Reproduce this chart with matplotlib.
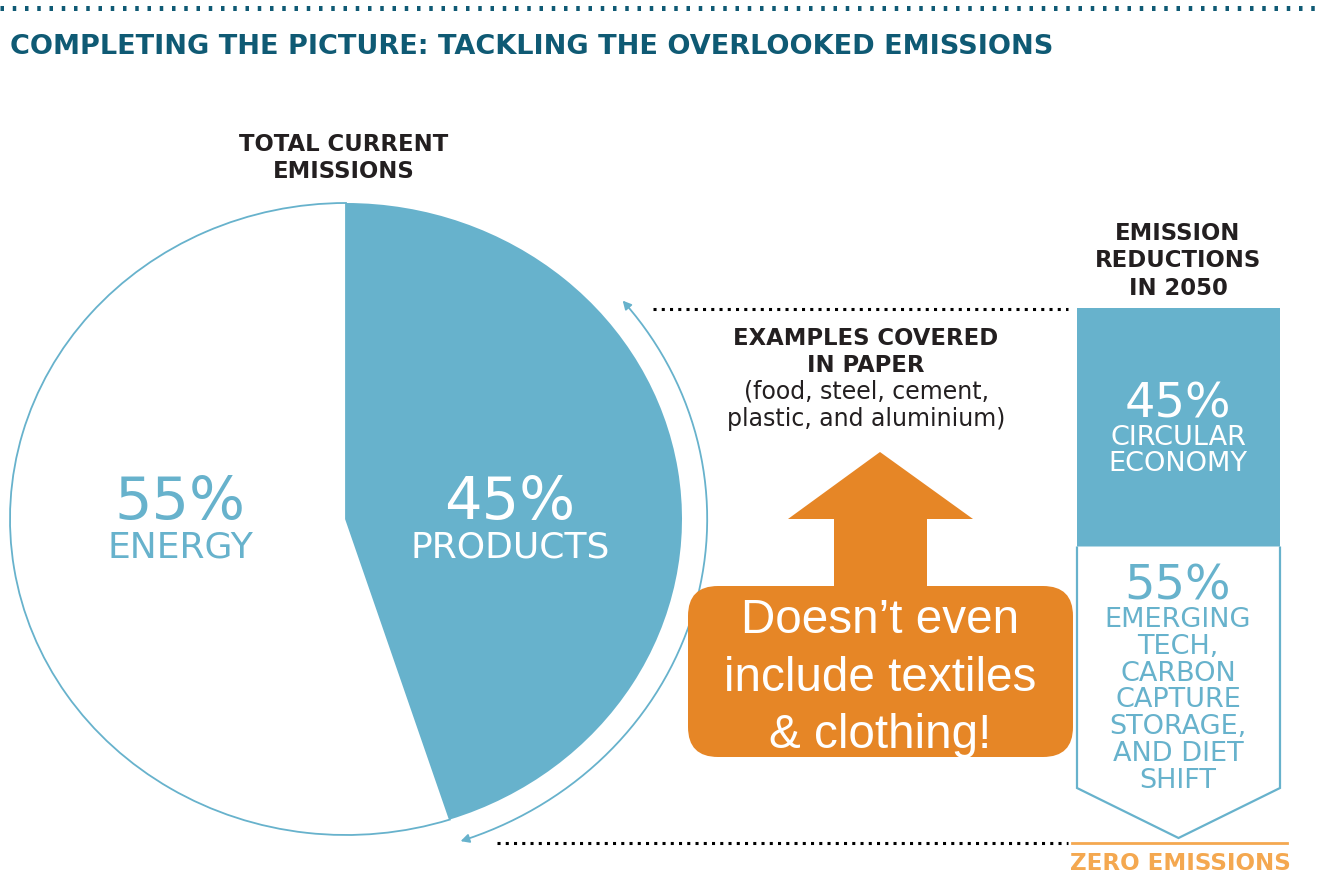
import matplotlib
matplotlib.use("Agg")
import matplotlib.pyplot as plt
import numpy as np
from matplotlib.patches import Polygon, Rectangle, FancyBboxPatch, FancyArrowPatch
from matplotlib.path import Path

# ---- content -------------------------------------------------------------
title = "COMPLETING THE PICTURE: TACKLING THE OVERLOOKED EMISSIONS"
pie_title = ["TOTAL CURRENT", "EMISSIONS"]
pie_labels = ["PRODUCTS", "ENERGY"]
pie_shares = [45, 55]
bar_title = ["EMISSION", "REDUCTIONS", "IN 2050"]
bar_shares = [45, 55]
bar_labels = [["CIRCULAR", "ECONOMY"],
              ["EMERGING", "TECH,", "CARBON", "CAPTURE", "STORAGE,", "AND DIET", "SHIFT"]]
examples_head = ["EXAMPLES COVERED", "IN PAPER"]
examples_list = ["(food, steel, cement,", "plastic, and aluminium)"]
callout = ["Doesn\u2019t even", "include textiles", "& clothing!"]
baseline_label = "ZERO EMISSIONS"

# ---- style ---------------------------------------------------------------
BLUE = "#67b2cc"
TEAL = "#0f5a74"
DARK = "#231f20"
ORANGE = "#e68626"
LIGHT_ORANGE = "#f4a850"
SANS = "DejaVu Sans"
CALLOUT_FONT = "Liberation Sans"

W, H = 1320, 875
fig = plt.figure(figsize=(W / 100, H / 100), dpi=100)

# ---- pie (slightly squashed ellipse) -------------------------------------
px0, px1, py0, py1 = 10, 682, 203, 835
pax = fig.add_axes([px0 / W, 1 - py1 / H, (px1 - px0) / W, (py1 - py0) / H])
wedges, _ = pax.pie(pie_shares, colors=[BLUE, "white"], startangle=90,
                    counterclock=False)
wedges[0].set(edgecolor=BLUE, linewidth=0)
wedges[1].set(edgecolor=BLUE, linewidth=1.3)
for w in wedges:
    w.set_clip_on(False)
pax.set_aspect("auto")
pax.set_xlim(-1, 1)
pax.set_ylim(-1, 1)
pax.axis("off")

# curved double arrow around the products slice
theta = np.radians(np.linspace(40, -71.5, 200))
r_arc = 1.075
arc = Path(np.column_stack([r_arc * np.cos(theta), r_arc * np.sin(theta)]))
arrow = FancyArrowPatch(path=arc, arrowstyle="<|-|>,head_length=5,head_width=2.6",
                        color=BLUE, lw=1.3, transform=pax.transData)
arrow.set_clip_on(False)
pax.add_patch(arrow)

# ---- overlay axes in pixel coordinates ------------------------------------
ax = fig.add_axes([0, 0, 1, 1], zorder=5)
ax.set_xlim(0, W)
ax.set_ylim(H, 0)
ax.set_facecolor("none")
ax.axis("off")

# top dotted rule and title
ax.plot([0, W], [8, 8], color=TEAL, lw=3.6, linestyle=(0, (0.7, 1.75)))
ax.text(10, 54, title, fontsize=19.5, fontweight="bold", color=TEAL,
        family=SANS, ha="left", va="baseline")


def stack(x, baselines, lines, **kw):
    for yb, s in zip(baselines, lines):
        ax.text(x, yb, s, ha="center", va="baseline", family=SANS, **kw)


# pie headings and labels
stack(344, [151, 178], pie_title, fontsize=16.4, fontweight="bold", color=DARK)
ax.text(180, 519, f"{pie_shares[1]}%", ha="center", va="baseline",
        fontsize=42.5, color=BLUE, family=SANS)
ax.text(180, 558, pie_labels[1], ha="center", va="baseline",
        fontsize=26, color=BLUE, family=SANS)
ax.text(510, 519, f"{pie_shares[0]}%", ha="center", va="baseline",
        fontsize=42.5, color="white", family=SANS)
ax.text(510, 558, pie_labels[0], ha="center", va="baseline",
        fontsize=26, color="white", family=SANS)

# examples note
stack(866, [345, 372], examples_head, fontsize=16.4, fontweight="bold", color=DARK)
stack(866, [399, 426], examples_list, fontsize=17, color=DARK)

# ---- reduction bar --------------------------------------------------------
bx0, bx1 = 1077, 1280
btop, btip, bside = 308, 838, 788
bmid = (bx0 + bx1) / 2
split = btop + (btip - btop) * bar_shares[0] / sum(bar_shares)
ax.add_patch(Rectangle((bx0, btop), bx1 - bx0, split - btop,
                       facecolor=BLUE, edgecolor="none"))
ax.add_patch(Polygon([(bx0, split), (bx0, bside), (bmid, btip), (bx1, bside),
                      (bx1, split)], closed=False, facecolor="white",
                     edgecolor=BLUE, lw=1.6))

stack(1178, [240, 267, 295], bar_title, fontsize=16.4, fontweight="bold", color=DARK)
ax.text(1178, 417, f"{bar_shares[0]}%", ha="center", va="baseline",
        fontsize=34.5, color="white", family=SANS)
stack(1178, [445, 471], bar_labels[0], fontsize=19.5, color="white")
ax.text(1178, 599, f"{bar_shares[1]}%", ha="center", va="baseline",
        fontsize=34.5, color=BLUE, family=SANS)
stack(1178, [627 + 26.8 * i for i in range(len(bar_labels[1]))], bar_labels[1],
      fontsize=19.5, color=BLUE)

# dotted guide lines and zero baseline
ax.plot([653, 1068], [309, 309], color="black", lw=2.2, linestyle=(0, (1, 1.7)))
ax.plot([497, 1068], [843, 843], color="black", lw=2.2, linestyle=(0, (1, 1.7)))
ax.plot([1072, 1287], [843, 843], color=LIGHT_ORANGE, lw=2)
ax.text(1180, 870, baseline_label, ha="center", va="baseline", fontsize=16.6,
        fontweight="bold", color=LIGHT_ORANGE, family=SANS)

# ---- orange callout ------------------------------------------------------
ax.add_patch(Polygon([(880, 452), (973, 519), (927, 519), (927, 592),
                      (834, 592), (834, 519), (788, 519)], closed=True,
                     facecolor=ORANGE, edgecolor="none"))
ax.add_patch(FancyBboxPatch((688, 586), 385, 171,
                            boxstyle="round,pad=0,rounding_size=30",
                            facecolor=ORANGE, edgecolor="none"))
for yb, s in zip([633, 691, 748], callout):
    ax.text(880, yb, s, ha="center", va="baseline", fontsize=34.3,
            color="white", family=CALLOUT_FONT)

fig.savefig("out.png", dpi=100)
